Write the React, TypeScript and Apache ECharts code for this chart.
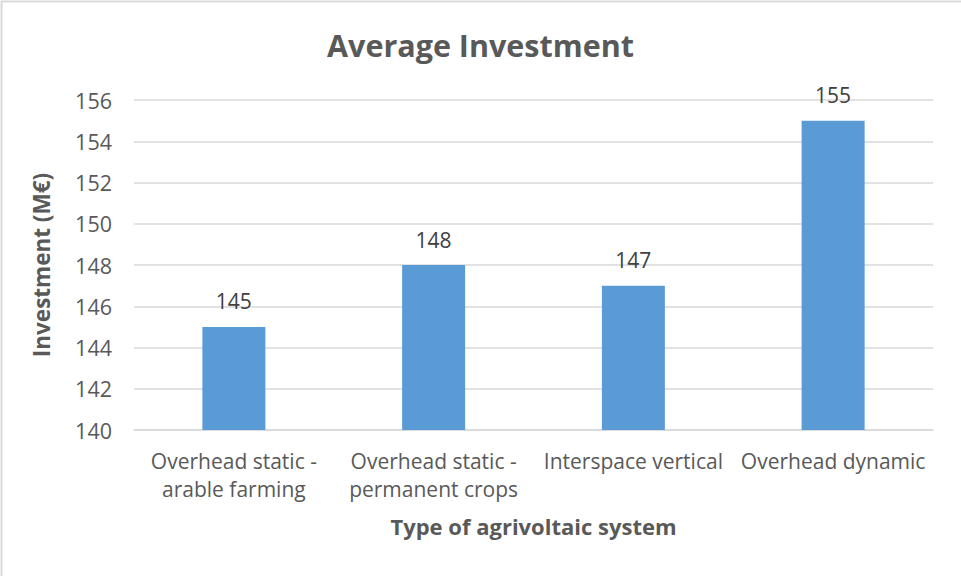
import React, { useEffect, useRef } from "react";
import * as echarts from "echarts";

const categories = [
  "Overhead static -\narable farming",
  "Overhead static -\npermanent crops",
  "Interspace vertical",
  "Overhead dynamic",
];
const investment = [145, 148, 147, 155];
const yMin = 140;
const yMax = 156;
const yStep = 2;

const FONT = "Open Sans";
const TEXT = "#595959";
const GRID = "#d9d9d9";

export default function App() {
  const ref = useRef<HTMLDivElement>(null);

  useEffect(() => {
    if (!ref.current) return;
    const chart = echarts.init(ref.current, null, { renderer: "svg" });
    chart.setOption({
      animation: false,
      backgroundColor: "#ffffff",
      textStyle: { fontFamily: FONT },
      title: {
        text: "Average Investment",
        left: "center",
        top: 24,
        textStyle: { fontFamily: FONT, fontSize: 30.5, fontWeight: "bold", color: TEXT },
      },
      graphic: [
        {
          type: "polyline",
          shape: { points: [[1.5, 600], [1.5, 1.5], [990, 1.5]] },
          style: { stroke: GRID, lineWidth: 2, fill: "none" },
          silent: true,
        },
      ],
      grid: { left: 134, right: 28, top: 100, bottom: 146 },
      xAxis: {
        type: "category",
        data: categories,
        name: "Type of agrivoltaic system",
        nameLocation: "middle",
        nameGap: 85,
        nameTextStyle: { fontFamily: FONT, fontSize: 22, fontWeight: "bold", color: TEXT },
        axisLine: { lineStyle: { color: GRID, width: 1.5 } },
        axisTick: { show: false },
        axisLabel: {
          interval: 0,
          margin: 17,
          fontFamily: FONT,
          fontSize: 21,
          lineHeight: 28,
          color: TEXT,
        },
      },
      yAxis: {
        type: "value",
        min: yMin,
        max: yMax,
        interval: yStep,
        name: "Investment (M€)",
        nameLocation: "middle",
        nameGap: 81,
        nameTextStyle: { fontFamily: FONT, fontSize: 22.5, fontWeight: "bold", color: TEXT },
        axisLine: { show: false },
        axisTick: { show: false },
        axisLabel: { margin: 22, fontFamily: FONT, fontSize: 21.5, color: TEXT },
        splitLine: { lineStyle: { color: GRID, width: 1.5 } },
      },
      series: [
        {
          type: "bar",
          data: investment,
          barWidth: 63,
          itemStyle: { color: "#5b9bd5" },
          label: {
            show: true,
            position: "top",
            distance: 15,
            fontFamily: FONT,
            fontSize: 21,
            color: "#404040",
          },
        },
      ],
    });
    return () => chart.dispose();
  }, []);

  return (
    <div
      ref={ref}
      style={{ position: "fixed", left: 0, top: 0, width: 961, height: 576 }}
    />
  );
}
